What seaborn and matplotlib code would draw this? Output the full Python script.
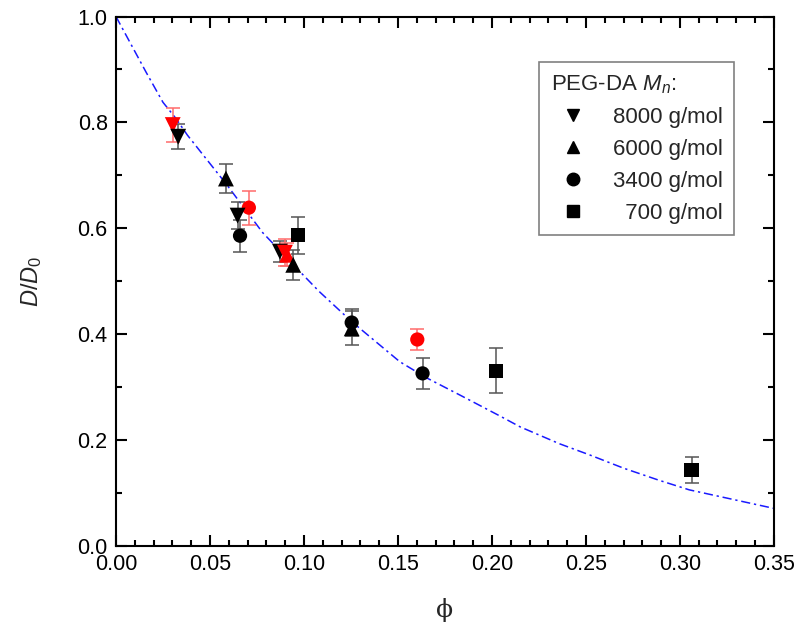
import pandas as pd
import matplotlib
matplotlib.use('Agg')
import matplotlib.pyplot as plt
from matplotlib.lines import Line2D
from matplotlib.ticker import MultipleLocator
import seaborn as sns

# measured points: volume fraction, D/D0, error, PEG-DA Mn, colour
phi = [0.0302, 0.0331, 0.0585, 0.0707, 0.0647, 0.0660, 0.0970, 0.0872, 0.0899,
       0.0910, 0.0943, 0.1254, 0.1254, 0.1603, 0.1631, 0.2020, 0.3062]
ratio = [0.795, 0.773, 0.694, 0.639, 0.624, 0.586, 0.587, 0.556, 0.554,
         0.550, 0.531, 0.422, 0.411, 0.390, 0.326, 0.331, 0.1435]
err = [0.032, 0.024, 0.027, 0.032, 0.025, 0.030, 0.035, 0.020, 0.025,
       0.022, 0.028, 0.025, 0.032, 0.020, 0.029, 0.042, 0.024]
mn = ['8000', '8000', '6000', '3400', '8000', '3400', '700', '8000', '8000',
      '6000', '6000', '3400', '6000', '3400', '3400', '700', '700']
colour = ['red', 'black', 'black', 'red', 'black', 'black', 'black', 'black', 'red',
          'red', 'black', 'black', 'black', 'red', 'black', 'black', 'black']

# model curve
fit_phi = [0.0, 0.016, 0.025, 0.032, 0.038, 0.059, 0.078, 0.096, 0.108, 0.125,
           0.151, 0.165, 0.183, 0.204, 0.215, 0.236, 0.252, 0.270, 0.289, 0.305, 0.35]
fit_ratio = [1.0, 0.895, 0.838, 0.807, 0.776, 0.682, 0.592, 0.525, 0.481, 0.425,
             0.348, 0.318, 0.285, 0.246, 0.225, 0.193, 0.172, 0.147, 0.124, 0.106, 0.071]

legend_mn = ['8000', '6000', '3400', '700']
legend_labels = ['8000 g/mol', '6000 g/mol', '3400 g/mol', '  700 g/mol']
marker_map = {'8000': 'v', '6000': '^', '3400': 'o', '700': 's'}

df = pd.DataFrame({'phi': phi, 'ratio': ratio, 'err': err, 'Mn': mn, 'colour': colour})

sns.set_style('ticks')
plt.rcParams['font.family'] = ['Liberation Sans', 'DejaVu Sans']
plt.rcParams['mathtext.fontset'] = 'custom'
plt.rcParams['mathtext.rm'] = 'Liberation Sans'
plt.rcParams['mathtext.it'] = 'Liberation Sans:italic'

fig = plt.figure(figsize=(7.97, 6.28), dpi=100)
ax = fig.add_axes([0.1455, 0.1306, 0.8255, 0.8431])

sns.lineplot(x=fit_phi, y=fit_ratio, sort=False, color='#1a1aff', lw=1.1,
             linestyle=(0, (6, 2.5, 1.5, 2.5)), ax=ax, zorder=1)

for c, ecol in [('black', '#555555'), ('red', '#ff6b6b')]:
    sub = df[df['colour'] == c]
    ax.errorbar(sub['phi'], sub['ratio'], yerr=sub['err'], fmt='none', ecolor=ecol,
                elinewidth=1.1, capsize=5, capthick=1.1, zorder=2)

for m, sub in df.groupby('Mn'):
    size = 130 if marker_map[m] in ('v', '^') else 105
    sns.scatterplot(data=sub, x='phi', y='ratio', hue='colour',
                    palette={'black': 'black', 'red': 'red'}, marker=marker_map[m],
                    s=size, linewidth=0, legend=False, ax=ax, zorder=3)

ax.set_xlim(0, 0.35)
ax.set_ylim(0, 1.0)
ax.xaxis.set_major_locator(MultipleLocator(0.05))
ax.xaxis.set_minor_locator(MultipleLocator(0.01))
ax.yaxis.set_major_locator(MultipleLocator(0.2))
ax.yaxis.set_minor_locator(MultipleLocator(0.1))
ax.xaxis.set_major_formatter(plt.FormatStrFormatter('%.2f'))
ax.yaxis.set_major_formatter(plt.FormatStrFormatter('%.1f'))
ax.tick_params(which='both', direction='in', top=True, right=True, width=1.5,
               labelsize=15.5, colors='black')
ax.tick_params(which='major', length=8, pad=6)
ax.tick_params(which='minor', length=4.5)
for sp in ax.spines.values():
    sp.set_linewidth(1.5)
    sp.set_color('black')

ax.set_xlabel('ϕ', fontsize=18, family=['DejaVu Serif'], labelpad=16)
ax.set_ylabel(r'$D/D_\mathregular{0}$', fontsize=17, labelpad=24)

handles = [Line2D([], [], marker=marker_map[m], color='black', linestyle='none',
                  markersize=9) for m in legend_mn]
leg = ax.legend(handles, legend_labels, title=r'PEG-DA $M_n$:', loc='upper right',
                bbox_to_anchor=(0.939, 0.914), borderaxespad=0, fontsize=16,
                title_fontsize=16, frameon=True, fancybox=False, framealpha=1,
                edgecolor='#808080', handletextpad=0.8, labelspacing=0.5,
                borderpad=0.5, alignment='left')
leg.get_frame().set_linewidth(1.2)

fig.savefig('out.png', dpi=100)
